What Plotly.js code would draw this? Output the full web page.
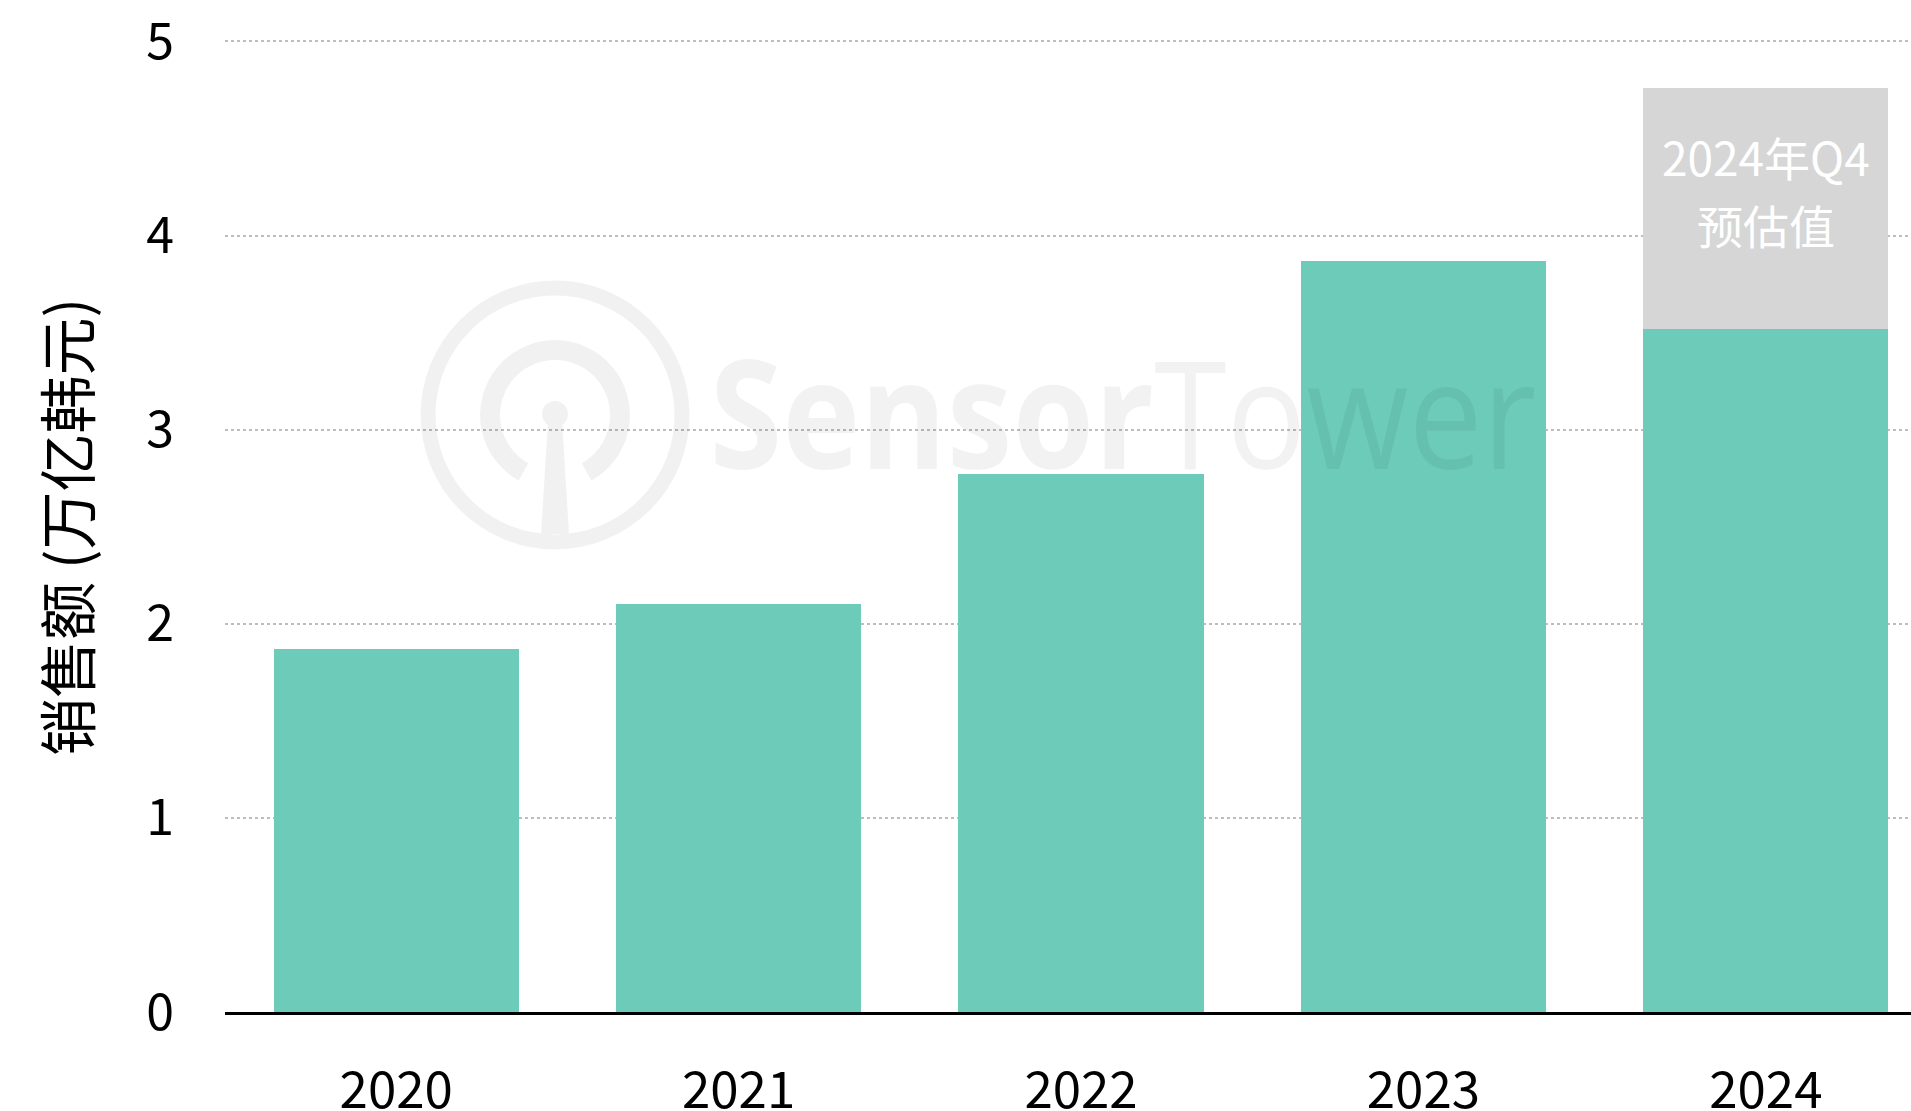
<!DOCTYPE html>
<html>
<head>
<meta charset="utf-8">
<script src="https://cdn.plot.ly/plotly-3.0.1.min.js"></script>
<style>
  html, body { margin: 0; padding: 0; background: #ffffff; }
  #chart { width: 1911px; height: 1111px; }
</style>
</head>
<body>
<div id="chart"></div>
<script>
// ---- data ----
const years = ['2020', '2021', '2022', '2023', '2024'];
const salesActual = [1.87, 2.10, 2.77, 3.87, 3.52];     // 万亿韩元
const salesQ4Estimate = [0, 0, 0, 0, 1.24];             // 2024年Q4预估值 (stacked)
const yTicks = [0, 1, 2, 3, 4, 5];
const yTitle = '销售额 (万亿韩元)';
const estimateLines = ['2024年Q4', '预估值'];
const estimateLineY = [4.41, 4.06];
const watermarkText = '<b>Sensor</b>Tower';

const FONT = '"Noto Sans CJK SC", "Noto Sans", sans-serif';

const traces = [
  {
    type: 'bar',
    x: years,
    y: salesActual,
    marker: { color: '#6ccbb9', line: { width: 0 } },
    hoverinfo: 'x+y',
    showlegend: false
  },
  {
    type: 'bar',
    x: years,
    y: salesQ4Estimate,
    marker: { color: '#d6d6d6', line: { width: 0 } },
    hoverinfo: 'x+y',
    showlegend: false
  }
];

// watermark logo (decoration) as inline svg
const logoSvg =
  '<svg xmlns="http://www.w3.org/2000/svg" width="270" height="270" viewBox="0 0 270 270">' +
  '<g opacity="0.05">' +
  '<circle cx="135" cy="135" r="127" fill="none" stroke="#000" stroke-width="15"/>' +
  '<path d="M103.5 191.9 A65 65 0 1 1 166.5 191.9" fill="none" stroke="#000" stroke-width="20"/>' +
  '<circle cx="135" cy="134" r="13" fill="#000"/>' +
  '<path d="M128 140 L142 140 L149 254 L121 254 Z" fill="#000"/>' +
  '</g></svg>';

const estimateAnnotations = estimateLines.map(function (txt, i) {
  return {
    x: years.indexOf('2024'), y: estimateLineY[i], xref: 'x', yref: 'y',
    text: txt,
    showarrow: false,
    xanchor: 'center', yanchor: 'middle',
    font: { family: FONT, size: 46, color: '#ffffff' }
  };
});

const layout = {
  width: 1911,
  height: 1111,
  margin: { l: 225, r: 0, t: 22, b: 99 },
  paper_bgcolor: '#ffffff',
  plot_bgcolor: '#ffffff',
  barmode: 'stack',
  bargap: 0.284,
  font: { family: FONT, color: '#000000', size: 50 },
  xaxis: {
    type: 'category',
    range: [-0.5, 4.424],
    showgrid: false,
    showline: true,
    linecolor: '#000000',
    linewidth: 3,
    ticks: '',
    ticklabelstandoff: 32,
    tickfont: { family: FONT, size: 51, color: '#000000' },
    fixedrange: true
  },
  yaxis: {
    range: [0, 5.1],
    tickvals: yTicks,
    showgrid: true,
    gridcolor: '#bdbdbd',
    gridwidth: 2,
    griddash: '3px,3px',
    zeroline: false,
    showline: false,
    ticks: '',
    ticklabelstandoff: 50,
    tickfont: { family: FONT, size: 50, color: '#000000' },
    title: { text: yTitle, font: { family: FONT, size: 58, color: '#000000' }, standoff: 36 },
    fixedrange: true
  },
  annotations: estimateAnnotations.concat([
    {
      x: 0.5326, y: 0.607, xref: 'paper', yref: 'paper',
      text: watermarkText,
      showarrow: false,
      xanchor: 'center', yanchor: 'middle',
      font: { family: '"Open Sans", sans-serif', size: 150, color: 'rgba(0,0,0,0.05)' }
    }
  ]),
  images: [
    {
      source: 'data:image/svg+xml;utf8,' + encodeURIComponent(logoSvg),
      xref: 'paper', yref: 'paper',
      x: 0.1157, y: 0.7394,
      sizex: 0.1601, sizey: 0.2727,
      xanchor: 'left', yanchor: 'top',
      sizing: 'stretch',
      layer: 'above'
    }
  ]
};

Plotly.newPlot('chart', traces, layout, { displayModeBar: false, responsive: false, staticPlot: true }).then(function (gd) {
  // condense the watermark text horizontally, like the reference
  gd.querySelectorAll('text.annotation-text').forEach(function (t) {
    if (t.textContent === 'SensorTower') {
      const bb = t.getBBox();
      const cx = bb.x + bb.width / 2;
      const prev = t.getAttribute('transform') || '';
      t.setAttribute('transform', (prev + ' translate(' + cx + ',0) scale(0.88,1) translate(' + (-cx) + ',0)').trim());
    }
  });
  // nudge the y-axis title slightly down, as in the reference
  const yt = gd.querySelector('.ytitle');
  if (yt) {
    const prev = yt.getAttribute('transform') || '';
    yt.setAttribute('transform', (prev + ' translate(-10,0)').trim());
  }
});
</script>
</body>
</html>
